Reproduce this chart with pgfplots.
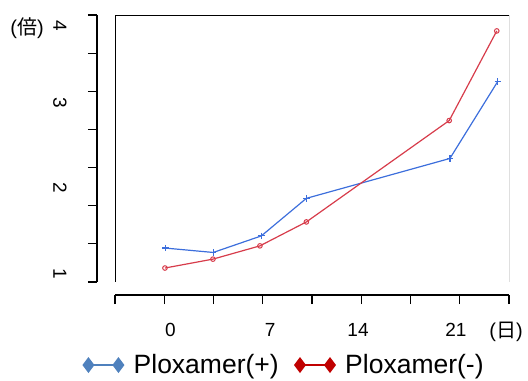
\documentclass[border=0pt]{standalone}
\usepackage{pgfplots}
\pgfplotsset{compat=1.18}
\usepackage{fontspec}
\setmainfont{Liberation Sans}
\newfontfamily\cjk{Noto Sans CJK JP}
\definecolor{pblue}{RGB}{60,110,220}
\definecolor{pred}{RGB}{215,60,75}
\definecolor{lblue}{RGB}{79,129,189}
\definecolor{lred}{RGB}{192,0,0}
\begin{document}
\begin{tikzpicture}
\path[use as bounding box] (0,0) rectangle (528bp,381bp);
\begin{axis}[
  at={(115bp,99bp)}, anchor=south west,
  scale only axis, width=394bp, height=267bp,
  xmin=-3.5, xmax=24.5, ymin=1, ymax=4,
  separate axis lines,
  axis x line*=bottom, axis y line*=left,
  axis x line shift=13bp, axis y line shift=18bp,
  axis line style={-, line width=1.1bp, black},
  tick align=outside, major tick length=9bp,
  tick style={line width=1.1bp, black},
  minor tick num=0,
  xtick={-3.5,0,...,24.5}, xticklabels={,,},
  ytick={1,1.4286,1.8571,2.2857,2.7143,3.1429,3.5714,4}, yticklabels={,,},
  /pgf/number format/assume math mode=true,
  ticklabel style={font=\fontsize{19bp}{22bp}\selectfont},
  extra x ticks={0.43,7.53,13.77,20.73},
  extra x tick labels={0,7,14,21},
  extra x tick style={major tick length=0pt, xticklabel style={anchor=center, yshift=-35bp}},
  extra y ticks={1.09,2.062,3.017,3.882},
  extra y tick labels={1,2,3,4},
  extra y tick style={major tick length=0pt, yticklabel style={anchor=center, xshift=-37bp, rotate=-90}},
  legend columns=2,
  legend style={at={(axis description cs:-0.0812,-0.311)}, anchor=west, draw=none, fill=none,
    font=\fontsize{26.5bp}{30bp}\selectfont, inner sep=0pt,
    /tikz/every odd column/.append style={column sep=8bp},
    /tikz/every even column/.append style={column sep=14bp}},
  legend cell align=left,
  legend image code/.code={\draw[#1] plot coordinates {(0bp,0bp) (30bp,0bp)};},
]
\draw[line width=1bp, black] (rel axis cs:0,0) rectangle (rel axis cs:1,1);
\addplot[pblue, line width=1.2bp, mark=+, mark size=3.2bp, forget plot] coordinates {
  (0.09,1.381) (3.48,1.332) (6.9,1.518) (10.1,1.940) (20.3,2.388) (23.7,3.253)};
\addplot[pred, line width=1.2bp, mark=o, mark size=2.3bp, mark options={line width=1bp}, forget plot] coordinates {
  (0.05,1.157) (3.46,1.257) (6.8,1.406) (10.1,1.675) (20.25,2.814) (23.63,3.821)};
\addlegendimage{lblue, line width=1.2bp, mark=diamond*, mark size=7bp}
\addlegendentry{Ploxamer(+)}
\addlegendimage{lred, line width=1.2bp, mark=diamond*, mark size=7bp}
\addlegendentry{Ploxamer(-)}
\end{axis}
\node[font=\fontsize{20bp}{24bp}\selectfont] at (27bp,353bp) {({\cjk 倍})};
\node[font=\fontsize{20bp}{24bp}\selectfont] at (506bp,49bp) {({\cjk 日})};
\end{tikzpicture}
\end{document}
